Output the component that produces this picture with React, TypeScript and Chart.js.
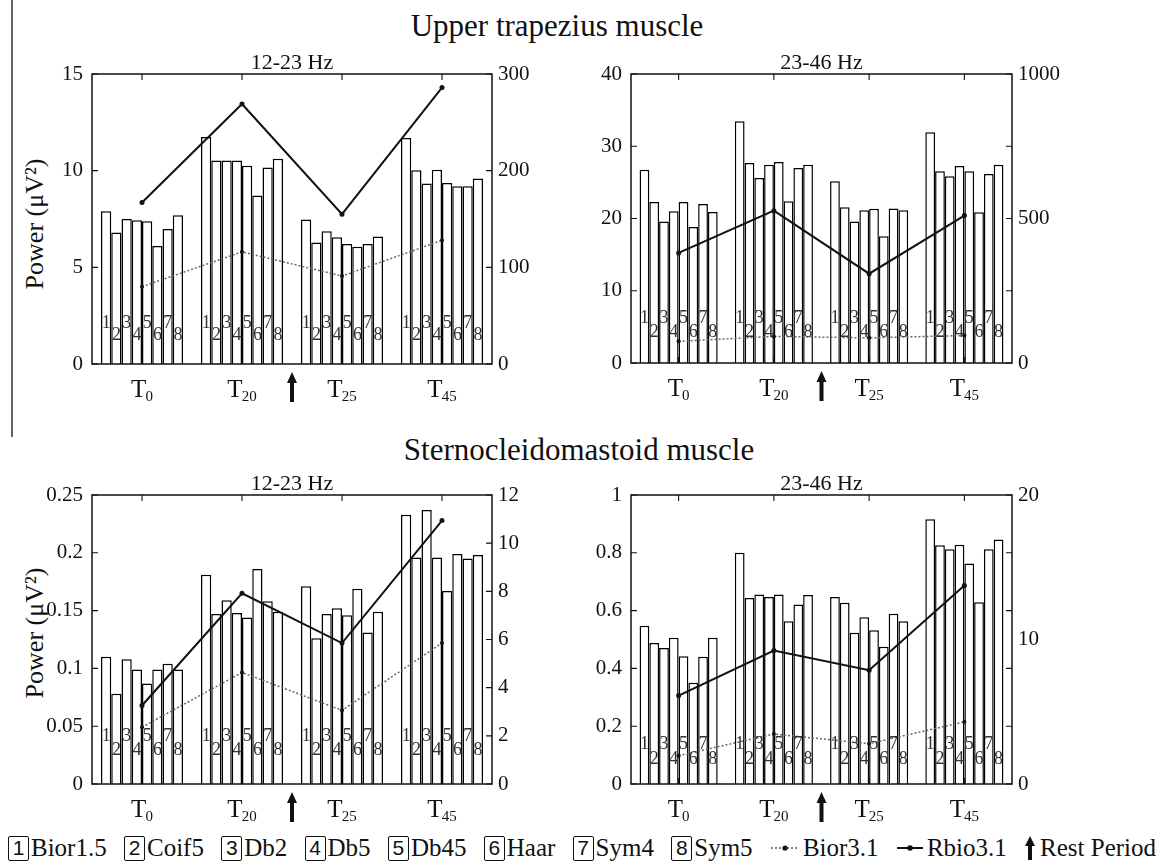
import React, { useEffect, useRef } from "react";
import { Chart, registerables } from "chart.js";

Chart.register(...registerables);

// Measurement sessions (rest period falls between T20 and T25)
const timeLabels = ["T0", "T20", "T25", "T45"];

// Wavelet families shown as numbered bars 1..8
const wavelets = ["Bior1.5", "Coif5", "Db2", "Db5", "Db45", "Haar", "Sym4", "Sym5"];

// Upper trapezius, 12-23 Hz: rows = sessions, columns = wavelets (µV²)
const trapLowBars = [
  [7.9, 6.8, 7.5, 7.43, 7.38, 6.1, 6.98, 7.69],
  [11.74, 10.52, 10.52, 10.52, 10.26, 8.72, 10.16, 10.62],
  [7.47, 6.28, 6.86, 6.55, 6.21, 6.07, 6.21, 6.6],
  [11.69, 10.02, 9.33, 10.05, 9.36, 9.19, 9.19, 9.6],
];
const trapLowBior31 = [80, 116, 91, 128];
const trapLowRbio31 = [167, 269, 155, 286];

// Upper trapezius, 23-46 Hz
const trapHighBars = [
  [26.76, 22.28, 19.6, 21.0, 22.28, 18.82, 22.0, 20.9],
  [33.45, 27.68, 25.6, 27.45, 27.82, 22.38, 26.99, 27.45],
  [25.14, 21.55, 19.6, 21.13, 21.36, 17.53, 21.4, 21.13],
  [31.93, 26.53, 25.84, 27.27, 26.53, 20.85, 26.16, 27.45],
];
const trapHighBior31 = [75, 92, 87, 95];
const trapHighRbio31 = [381, 527, 309, 510];

// Sternocleidomastoid, 12-23 Hz
const sternLowBars = [
  [0.11, 0.078, 0.108, 0.099, 0.087, 0.099, 0.104, 0.099],
  [0.181, 0.147, 0.159, 0.148, 0.144, 0.186, 0.158, 0.149],
  [0.171, 0.126, 0.147, 0.152, 0.146, 0.169, 0.131, 0.149],
  [0.233, 0.196, 0.237, 0.196, 0.167, 0.199, 0.195, 0.198],
];
const sternLowBior31 = [2.36, 4.63, 3.06, 5.85];
const sternLowRbio31 = [3.26, 7.92, 5.85, 10.94];

// Sternocleidomastoid, 23-46 Hz
const sternHighBars = [
  [0.548, 0.488, 0.471, 0.506, 0.442, 0.35, 0.44, 0.506],
  [0.8, 0.644, 0.656, 0.647, 0.656, 0.563, 0.621, 0.654],
  [0.647, 0.627, 0.523, 0.577, 0.532, 0.475, 0.589, 0.563],
  [0.916, 0.826, 0.812, 0.828, 0.763, 0.629, 0.812, 0.846],
];
const sternHighBior31 = [1.96, 3.46, 2.79, 4.3];
const sternHighRbio31 = [6.12, 9.24, 7.87, 13.74];

// Axis ticks
const trapLowLeftTicks = [0, 5, 10, 15];
const trapLowRightTicks = [0, 100, 200, 300];
const trapLowRightLabels = [0, 100, 200, 300];
const trapHighLeftTicks = [0, 10, 20, 30, 40];
const trapHighRightTicks = [0, 250, 500, 750, 1000];
const trapHighRightLabels = [0, 500, 1000];
const sternLowLeftTicks = [0, 0.05, 0.1, 0.15, 0.2, 0.25];
const sternLowRightTicks = [0, 2, 4, 6, 8, 10, 12];
const sternLowRightLabels = [0, 2, 4, 6, 8, 10, 12];
const sternHighLeftTicks = [0, 0.2, 0.4, 0.6, 0.8, 1];
const sternHighRightTicks = [0, 4, 8, 10, 12, 16, 20];
const sternHighRightMarks = [0, 4, 8, 12, 16, 20];
const sternHighRightLabels = [0, 10, 20];

const SERIF = "'Liberation Serif', 'Times New Roman', serif";
const LEFT_W = 70;
const RIGHT_W = 62;
const TOP_PAD = 30;
const BOTTOM_PAD = 46;

type PanelCfg = {
  title: string;
  plot: { l: number; t: number; r: number; b: number };
  bars: number[][];
  bior: number[];
  rbio: number[];
  leftTicks: number[];
  rightTicks: number[];
  rightMarks: number[];
  rightLabels: number[];
  digitOffsets: [number, number];
};

const panels: PanelCfg[] = [
  {
    title: "12-23 Hz",
    plot: { l: 92, t: 74, r: 492, b: 364 },
    bars: trapLowBars,
    bior: trapLowBior31,
    rbio: trapLowRbio31,
    leftTicks: trapLowLeftTicks,
    rightTicks: trapLowRightTicks,
    rightMarks: trapLowRightTicks,
    rightLabels: trapLowRightLabels,
    digitOffsets: [41, 29],
  },
  {
    title: "23-46 Hz",
    plot: { l: 631, t: 74, r: 1012, b: 363 },
    bars: trapHighBars,
    bior: trapHighBior31,
    rbio: trapHighRbio31,
    leftTicks: trapHighLeftTicks,
    rightTicks: trapHighRightTicks,
    rightMarks: trapHighRightTicks,
    rightLabels: trapHighRightLabels,
    digitOffsets: [45, 31],
  },
  {
    title: "12-23 Hz",
    plot: { l: 92, t: 495, r: 492, b: 784 },
    bars: sternLowBars,
    bior: sternLowBior31,
    rbio: sternLowRbio31,
    leftTicks: sternLowLeftTicks,
    rightTicks: sternLowRightTicks,
    rightMarks: sternLowRightTicks,
    rightLabels: sternLowRightLabels,
    digitOffsets: [48, 34],
  },
  {
    title: "23-46 Hz",
    plot: { l: 631, t: 495, r: 1012, b: 784 },
    bars: sternHighBars,
    bior: sternHighBior31,
    rbio: sternHighRbio31,
    leftTicks: sternHighLeftTicks,
    rightTicks: sternHighRightTicks,
    rightMarks: sternHighRightMarks,
    rightLabels: sternHighRightLabels,
    digitOffsets: [40, 25],
  },
];

function drawArrow(ctx: CanvasRenderingContext2D, x: number, top: number, bottom: number) {
  ctx.beginPath();
  ctx.moveTo(x, top);
  ctx.lineTo(x + 5, top + 11);
  ctx.lineTo(x + 2, top + 11);
  ctx.lineTo(x + 2, bottom);
  ctx.lineTo(x - 2, bottom);
  ctx.lineTo(x - 2, top + 11);
  ctx.lineTo(x - 5, top + 11);
  ctx.closePath();
  ctx.fill();
}

// Frame, inward ticks, numbered bars, session labels, rest arrow and panel title
function makeDecor(cfg: PanelCfg) {
  return {
    id: "panelDecor",
    afterDraw(chart: any) {
      const { ctx, chartArea: a } = chart;
      const x = chart.scales.x;
      const y = chart.scales.y;
      const y2 = chart.scales.y2;
      ctx.save();
      ctx.strokeStyle = "#111";
      ctx.fillStyle = "#111";
      ctx.lineWidth = 1.5;
      ctx.strokeRect(a.left, a.top, a.right - a.left, a.bottom - a.top);

      ctx.beginPath();
      cfg.leftTicks.forEach((v) => {
        const p = y.getPixelForValue(v);
        ctx.moveTo(a.left, p);
        ctx.lineTo(a.left + 6, p);
      });
      cfg.rightMarks.forEach((v) => {
        const p = y2.getPixelForValue(v);
        ctx.moveTo(a.right, p);
        ctx.lineTo(a.right - 6, p);
      });
      timeLabels.forEach((_, i) => {
        const px = x.getPixelForValue(i);
        ctx.moveTo(px, a.top);
        ctx.lineTo(px, a.top + 6);
        ctx.moveTo(px, a.bottom);
        ctx.lineTo(px, a.bottom - 6);
      });
      ctx.lineWidth = 1.1;
      ctx.stroke();

      // wavelet numbers inside each bar
      ctx.font = `18px ${SERIF}`;
      ctx.textAlign = "center";
      ctx.textBaseline = "middle";
      ctx.fillStyle = "#333";
      for (let i = 0; i < wavelets.length; i++) {
        const meta = chart.getDatasetMeta(i);
        const off = i % 2 === 0 ? cfg.digitOffsets[0] : cfg.digitOffsets[1];
        meta.data.forEach((el: any) => {
          ctx.fillText(String(i + 1), el.x, a.bottom - off);
        });
      }

      // session labels with subscripts
      ctx.fillStyle = "#111";
      ctx.textAlign = "left";
      ctx.textBaseline = "alphabetic";
      timeLabels.forEach((lab, i) => {
        const px = x.getPixelForValue(i);
        const main = lab[0];
        const sub = lab.slice(1);
        ctx.font = `25px ${SERIF}`;
        const wm = ctx.measureText(main).width;
        ctx.font = `15px ${SERIF}`;
        const ws = ctx.measureText(sub).width;
        const start = px - (wm + ws - 1) / 2;
        ctx.font = `25px ${SERIF}`;
        ctx.fillText(main, start, a.bottom + 33);
        ctx.font = `15px ${SERIF}`;
        ctx.fillText(sub, start + wm - 1, a.bottom + 37);
      });

      // rest period arrow between T20 and T25
      const ax = (x.getPixelForValue(1) + x.getPixelForValue(2)) / 2;
      drawArrow(ctx, ax, a.bottom + 8, a.bottom + 38);

      // panel title
      ctx.font = `22px ${SERIF}`;
      ctx.textAlign = "center";
      ctx.fillText(cfg.title, (a.left + a.right) / 2, a.top - 5);
      ctx.restore();
    },
  };
}

function Panel({ cfg }: { cfg: PanelCfg }) {
  const ref = useRef<HTMLCanvasElement>(null);
  const width = cfg.plot.r - cfg.plot.l + LEFT_W + RIGHT_W;
  const height = cfg.plot.b - cfg.plot.t + TOP_PAD + BOTTOM_PAD;

  useEffect(() => {
    const canvas = ref.current;
    if (!canvas) return;
    const barSets = wavelets.map((w, i) => ({
      type: "bar" as const,
      label: w,
      data: cfg.bars.map((row) => row[i]),
      backgroundColor: "#ffffff",
      borderColor: "#000000",
      borderWidth: 1.5,
      barPercentage: 1,
      categoryPercentage: 0.82,
      yAxisID: "y",
      order: 2,
    }));
    const tickFont = { family: SERIF, size: 21 };
    const chart = new Chart(canvas, {
      type: "bar",
      data: {
        labels: timeLabels,
        datasets: [
          ...barSets,
          {
            type: "line" as const,
            label: "Bior3.1",
            data: cfg.bior,
            yAxisID: "y2",
            borderColor: "#666666",
            borderDash: [2, 2],
            borderWidth: 1.5,
            pointRadius: 2,
            pointBackgroundColor: "#111111",
            pointBorderWidth: 0,
            order: 1,
          },
          {
            type: "line" as const,
            label: "Rbio3.1",
            data: cfg.rbio,
            yAxisID: "y2",
            borderColor: "#111111",
            borderWidth: 2,
            pointRadius: 2.5,
            pointBackgroundColor: "#111111",
            pointBorderWidth: 0,
            order: 0,
          },
        ] as any,
      },
      options: {
        animation: false,
        responsive: false,
        events: [],
        layout: { padding: { top: TOP_PAD, bottom: BOTTOM_PAD, left: 0, right: 0 } },
        plugins: { legend: { display: false }, tooltip: { enabled: false }, title: { display: false } },
        scales: {
          x: { display: false, offset: true },
          y: {
            position: "left",
            min: 0,
            max: cfg.leftTicks[cfg.leftTicks.length - 1],
            grid: { display: false, drawTicks: false },
            border: { display: false },
            afterBuildTicks: (s: any) => {
              s.ticks = cfg.leftTicks.map((v) => ({ value: v }));
            },
            afterFit: (s: any) => {
              s.width = LEFT_W;
            },
            ticks: {
              autoSkip: false,
              padding: 9,
              color: "#111",
              font: tickFont,
              callback: (v: any) => String(v),
            },
          },
          y2: {
            position: "right",
            min: 0,
            max: cfg.rightTicks[cfg.rightTicks.length - 1],
            grid: { display: false, drawTicks: false },
            border: { display: false },
            afterBuildTicks: (s: any) => {
              s.ticks = cfg.rightTicks.map((v) => ({ value: v }));
            },
            afterFit: (s: any) => {
              s.width = RIGHT_W;
            },
            ticks: {
              autoSkip: false,
              padding: 6,
              color: "#111",
              font: tickFont,
              callback: (v: any) => (cfg.rightLabels.includes(v) ? String(v) : ""),
            },
          },
        },
      } as any,
      plugins: [makeDecor(cfg)],
    });
    return () => chart.destroy();
  }, [cfg]);

  return (
    <canvas
      ref={ref}
      width={width}
      height={height}
      style={{
        position: "absolute",
        left: cfg.plot.l - LEFT_W,
        top: cfg.plot.t - TOP_PAD,
        width,
        height,
      }}
    />
  );
}

function WaveletKey({ n, name }: { n: number; name: string }) {
  return (
    <span style={{ display: "inline-flex", alignItems: "center", fontFamily: SERIF }}>
      <span
        style={{
          display: "inline-flex",
          alignItems: "center",
          justifyContent: "center",
          boxSizing: "border-box",
          width: 21,
          height: 25,
          border: "1.8px solid #111",
          borderRadius: 2,
          fontFamily: "'Liberation Sans', Arial, sans-serif",
          fontSize: 21,
          marginRight: 2,
        }}
      >
        {n}
      </span>
      {name}
    </span>
  );
}

export default function App() {
  return (
    <div
      style={{
        position: "absolute",
        left: 0,
        top: 0,
        width: 1158,
        height: 867,
        background: "#fff",
        overflow: "hidden",
        fontFamily: SERIF,
        color: "#111",
      }}
    >
      <div style={{ position: "absolute", left: 11, top: 0, width: 2, height: 437, background: "#666" }} />
      <div
        style={{
          position: "absolute",
          left: 557,
          top: 8,
          transform: "translateX(-50%)",
          fontSize: 31,
          lineHeight: "36px",
          whiteSpace: "nowrap",
        }}
      >
        Upper trapezius muscle
      </div>
      <div
        style={{
          position: "absolute",
          left: 579,
          top: 432,
          transform: "translateX(-50%)",
          fontSize: 31,
          lineHeight: "36px",
          whiteSpace: "nowrap",
        }}
      >
        Sternocleidomastoid muscle
      </div>
      {[224, 633].map((cy) => (
        <div
          key={cy}
          style={{
            position: "absolute",
            left: 35,
            top: cy,
            transform: "translate(-50%, -50%) rotate(-90deg)",
            fontSize: 26,
            whiteSpace: "nowrap",
          }}
        >
          Power (μV²)
        </div>
      ))}
      {panels.map((p, i) => (
        <Panel key={i} cfg={p} />
      ))}
      <div
        style={{
          position: "absolute",
          left: 8,
          top: 832,
          width: 1148,
          height: 32,
          display: "flex",
          justifyContent: "space-between",
          alignItems: "center",
          fontFamily: SERIF,
          fontSize: 25,
          whiteSpace: "nowrap",
        }}
      >
        {wavelets.map((w, i) => (
          <WaveletKey key={w} n={i + 1} name={w} />
        ))}
        <span style={{ display: "inline-flex", alignItems: "center" }}>
          <svg width="30" height="12" style={{ marginRight: 3 }}>
            <line x1="1" y1="6" x2="29" y2="6" stroke="#555" strokeWidth="1.6" strokeDasharray="2 2" />
            <circle cx="15" cy="6" r="2.6" fill="#111" />
          </svg>
          Bior3.1
        </span>
        <span style={{ display: "inline-flex", alignItems: "center" }}>
          <svg width="28" height="12" style={{ marginRight: 3 }}>
            <line x1="1" y1="6" x2="27" y2="6" stroke="#111" strokeWidth="2" />
            <circle cx="14" cy="6" r="2.8" fill="#111" />
          </svg>
          Rbio3.1
        </span>
        <span style={{ display: "inline-flex", alignItems: "center" }}>
          <svg width="12" height="26" style={{ marginRight: 4 }}>
            <path d="M6 1 L11 11 L8 11 L8 25 L4 25 L4 11 L1 11 Z" fill="#111" />
          </svg>
          Rest Period
        </span>
      </div>
    </div>
  );
}
